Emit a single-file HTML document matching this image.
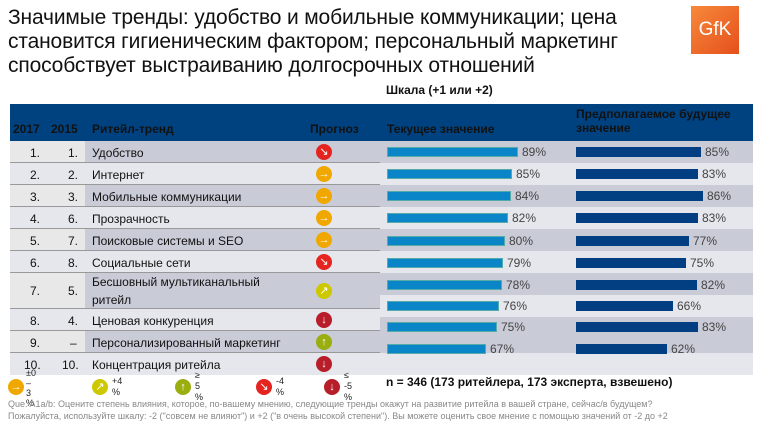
<!DOCTYPE html>
<html><head><meta charset="utf-8"><style>
body{margin:0;width:767px;height:425px;background:#fff;position:relative;overflow:hidden;font-family:"Liberation Sans",sans-serif;}
div{position:absolute;box-sizing:border-box}
.t{font-size:21px;left:8px;color:#111;white-space:nowrap;line-height:24px;letter-spacing:-0.15px}
.hd{font-size:12px;font-weight:bold;color:#111}
.r{left:10px;width:370px;border-bottom:1px solid #999}
.n{font-size:12px;color:#111;line-height:22px}
.c{width:16px;height:16px;border-radius:50%;left:316px;color:#fff;font-size:11px;text-align:center;line-height:16px}
.b1{height:10px;background:#0a86c8;left:387px;border:1px solid #5aa}
.b2{height:10px;background:#013e82;left:576px}
.p{font-size:12px;color:#444}
.rb{left:380px;width:373px;height:22px}
</style></head><body>
<div class="t" style="top:6px">Значимые тренды: удобство и мобильные коммуникации; цена</div>
<div class="t" style="top:30px">становится гигиеническим фактором; персональный маркетинг</div>
<div class="t" style="top:54px">способствует выстраиванию долгосрочных отношений</div>
<div style="left:691px;top:6px;width:48px;height:48px;background:linear-gradient(135deg,#f7893a,#e5501d);color:#fff;font-size:19px;text-align:center;line-height:48px">GfK</div>
<div class="hd" style="left:386px;top:83px">Шкала (+1 или +2)</div>
<div style="left:10px;top:104px;width:743px;height:37px;background:#00427f"></div>
<div class="hd" style="left:13px;top:122px">2017</div>
<div class="hd" style="left:51px;top:122px">2015</div>
<div class="hd" style="left:92px;top:122px">Ритейл-тренд</div>
<div class="hd" style="left:310px;top:122px">Прогноз</div>
<div class="hd" style="left:387px;top:122px">Текущее значение</div>
<div class="hd" style="left:576px;top:107px;line-height:14px">Предполагаемое будущее<br>значение</div>

<div class="rb" style="top:141px;background:#c9cbd7"></div>
<div class="rb" style="top:163px;background:#e6e7ed"></div>
<div class="rb" style="top:185px;background:#c9cbd7"></div>
<div class="rb" style="top:207px;background:#e6e7ed"></div>
<div class="rb" style="top:229px;background:#c9cbd7"></div>
<div class="rb" style="top:251px;background:#e6e7ed"></div>
<div class="rb" style="top:273px;background:#c9cbd7"></div>
<div class="rb" style="top:295px;background:#e6e7ed"></div>
<div class="rb" style="top:317px;background:#c9cbd7"></div>
<div class="rb" style="top:339px;background:#c9cbd7"></div>
<div class="rb" style="top:353px;height:22px;background:#e6e7ed"></div>

<div class="r" style="top:141px;height:22px;background:linear-gradient(90deg,#e8e8e8 75px,#c9cbd7 75px)"></div>
<div class="r" style="top:163px;height:22px;background:#e6e7ed"></div>
<div class="r" style="top:185px;height:22px;background:linear-gradient(90deg,#e8e8e8 75px,#c9cbd7 75px)"></div>
<div class="r" style="top:207px;height:22px;background:#e6e7ed"></div>
<div class="r" style="top:229px;height:22px;background:linear-gradient(90deg,#e8e8e8 75px,#c9cbd7 75px)"></div>
<div class="r" style="top:251px;height:22px;background:#e6e7ed"></div>
<div class="r" style="top:273px;height:36px;background:linear-gradient(90deg,#e8e8e8 75px,#c9cbd7 75px)"></div>
<div class="r" style="top:309px;height:22px;background:#e6e7ed"></div>
<div class="r" style="top:331px;height:22px;background:linear-gradient(90deg,#e8e8e8 75px,#c9cbd7 75px)"></div>
<div class="r" style="top:353px;height:22px;background:#e6e7ed;border:none"></div>

<div class="n" style="top:142px;left:30px">1.</div><div class="n" style="top:142px;left:68px">1.</div><div class="n" style="top:142px;left:92px">Удобство</div>
<div class="n" style="top:164px;left:30px">2.</div><div class="n" style="top:164px;left:68px">2.</div><div class="n" style="top:164px;left:92px">Интернет</div>
<div class="n" style="top:186px;left:30px">3.</div><div class="n" style="top:186px;left:68px">3.</div><div class="n" style="top:186px;left:92px">Мобильные коммуникации</div>
<div class="n" style="top:208px;left:30px">4.</div><div class="n" style="top:208px;left:68px">6.</div><div class="n" style="top:208px;left:92px">Прозрачность</div>
<div class="n" style="top:230px;left:30px">5.</div><div class="n" style="top:230px;left:68px">7.</div><div class="n" style="top:230px;left:92px">Поисковые системы и SEO</div>
<div class="n" style="top:252px;left:30px">6.</div><div class="n" style="top:252px;left:68px">8.</div><div class="n" style="top:252px;left:92px">Социальные сети</div>
<div class="n" style="top:280px;left:30px">7.</div><div class="n" style="top:280px;left:68px">5.</div><div class="n" style="top:273px;left:92px;line-height:18px">Бесшовный мультиканальный<br>ритейл</div>
<div class="n" style="top:310px;left:30px">8.</div><div class="n" style="top:310px;left:68px">4.</div><div class="n" style="top:310px;left:92px">Ценовая конкуренция</div>
<div class="n" style="top:332px;left:30px">9.</div><div class="n" style="top:332px;left:70px">–</div><div class="n" style="top:332px;left:92px">Персонализированный маркетинг</div>
<div class="n" style="top:354px;left:24px">10.</div><div class="n" style="top:354px;left:62px">10.</div><div class="n" style="top:354px;left:92px">Концентрация ритейла</div>

<div class="c" style="top:144px;background:#e52420">↘</div>
<div class="c" style="top:166px;background:#f0a800">→</div>
<div class="c" style="top:188px;background:#f0a800">→</div>
<div class="c" style="top:210px;background:#f0a800">→</div>
<div class="c" style="top:232px;background:#f0a800">→</div>
<div class="c" style="top:254px;background:#e52420">↘</div>
<div class="c" style="top:283px;background:#cdc800">↗</div>
<div class="c" style="top:312px;background:#b81d2a">↓</div>
<div class="c" style="top:334px;background:#9aae10">↑</div>
<div class="c" style="top:356px;background:#b81d2a">↓</div>

<div class="b1" style="top:147px;width:131px"></div><div class="p" style="left:522px;top:145px">89%</div>
<div class="b1" style="top:169px;width:125px"></div><div class="p" style="left:516px;top:167px">85%</div>
<div class="b1" style="top:191px;width:124px"></div><div class="p" style="left:515px;top:189px">84%</div>
<div class="b1" style="top:213px;width:121px"></div><div class="p" style="left:512px;top:211px">82%</div>
<div class="b1" style="top:236px;width:118px"></div><div class="p" style="left:509px;top:234px">80%</div>
<div class="b1" style="top:258px;width:116px"></div><div class="p" style="left:507px;top:256px">79%</div>
<div class="b1" style="top:280px;width:115px"></div><div class="p" style="left:506px;top:278px">78%</div>
<div class="b1" style="top:301px;width:112px"></div><div class="p" style="left:503px;top:299px">76%</div>
<div class="b1" style="top:322px;width:110px"></div><div class="p" style="left:501px;top:320px">75%</div>
<div class="b1" style="top:344px;width:99px"></div><div class="p" style="left:490px;top:342px">67%</div>

<div class="b2" style="top:147px;width:125px"></div><div class="p" style="left:705px;top:145px">85%</div>
<div class="b2" style="top:169px;width:122px"></div><div class="p" style="left:702px;top:167px">83%</div>
<div class="b2" style="top:191px;width:127px"></div><div class="p" style="left:707px;top:189px">86%</div>
<div class="b2" style="top:213px;width:122px"></div><div class="p" style="left:702px;top:211px">83%</div>
<div class="b2" style="top:236px;width:113px"></div><div class="p" style="left:693px;top:234px">77%</div>
<div class="b2" style="top:258px;width:110px"></div><div class="p" style="left:690px;top:256px">75%</div>
<div class="b2" style="top:280px;width:121px"></div><div class="p" style="left:701px;top:278px">82%</div>
<div class="b2" style="top:301px;width:97px"></div><div class="p" style="left:677px;top:299px">66%</div>
<div class="b2" style="top:322px;width:122px"></div><div class="p" style="left:702px;top:320px">83%</div>
<div class="b2" style="top:344px;width:91px"></div><div class="p" style="left:671px;top:342px">62%</div>

<div class="hd" style="left:386px;top:375px">n = 346 (173 ритейлера, 173 эксперта, взвешено)</div>

<div class="c" style="left:8px;top:379px;background:#f0a800">→</div>
<div style="left:26px;top:368px;font-size:9px;line-height:10px;color:#222">±0<br>–<br>3<br>%</div>
<div class="c" style="left:92px;top:379px;background:#cdc800">↗</div>
<div style="left:112px;top:376px;font-size:9px;line-height:11px;color:#222">+4<br>%</div>
<div class="c" style="left:175px;top:379px;background:#9aae10">↑</div>
<div style="left:195px;top:370px;font-size:9px;line-height:11px;color:#222">≥<br>5<br>%</div>
<div class="c" style="left:256px;top:379px;background:#e52420">↘</div>
<div style="left:276px;top:376px;font-size:9px;line-height:11px;color:#222">-4<br>%</div>
<div class="c" style="left:324px;top:379px;background:#b81d2a">↓</div>
<div style="left:344px;top:370px;font-size:9px;line-height:11px;color:#222">≤<br>-5<br>%</div>

<div style="left:8px;top:398px;font-size:9px;line-height:12px;color:#888;white-space:nowrap">Que. A1a/b: Оцените степень влияния, которое, по-вашему мнению, следующие тренды окажут на развитие ритейла в вашей стране, сейчас/в будущем?<br>Пожалуйста, используйте шкалу: -2 ("совсем не влияют") и +2 ("в очень высокой степени"). Вы можете оценить свое мнение с помощью значений от -2 до +2</div>
</body></html>
